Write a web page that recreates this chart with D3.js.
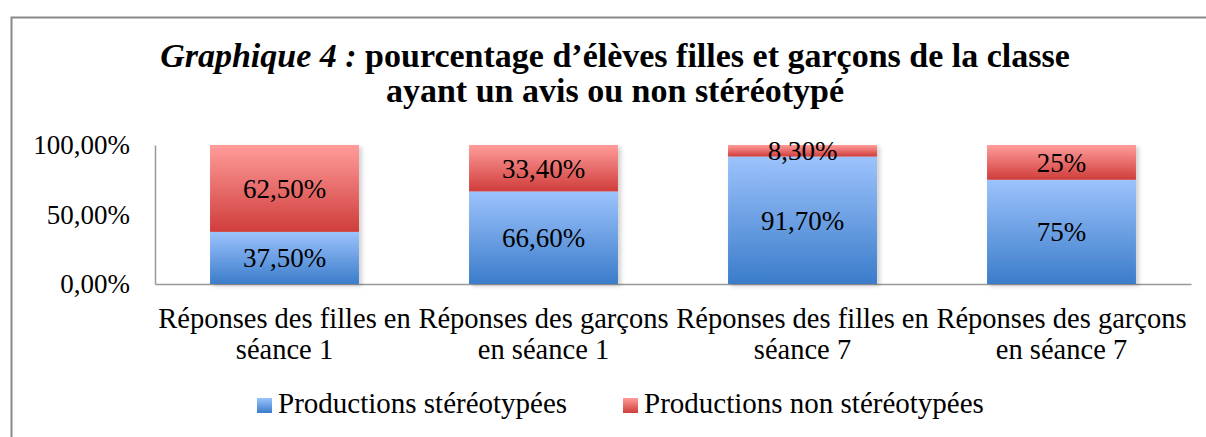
<!DOCTYPE html>
<html>
<head>
<meta charset="utf-8">
<script src="https://cdn.jsdelivr.net/npm/d3@7"></script>
<style>
body { margin: 0; background: #fff; }
</style>
</head>
<body>
<div id="chart"></div>
<script>
var categories = ["c1", "c2", "c3", "c4"];
var catLabels = [
    ["Réponses des filles en", "séance 1"],
    ["Réponses des garçons", "en séance 1"],
    ["Réponses des filles en", "séance 7"],
    ["Réponses des garçons", "en séance 7"]
];
var stereo = [0.375, 0.666, 0.917, 0.75];
var nonStereo = [0.625, 0.334, 0.083, 0.25];
var stereoLabels = ["37,50%", "66,60%", "91,70%", "75%"];
var nonStereoLabels = ["62,50%", "33,40%", "8,30%", "25%"];
var seriesNames = ["Productions stéréotypées", "Productions non stéréotypées"];
var yTicks = [0, 0.5, 1];

var FONT = "'Liberation Serif', serif";
var W = 1206, H = 437;
var svg = d3.select("#chart").append("svg").attr("width", W).attr("height", H)
    .attr("font-family", FONT);

var defs = svg.append("defs");
function grad(id, top, bottom) {
    var g = defs.append("linearGradient").attr("id", id)
        .attr("x1", 0).attr("y1", 0).attr("x2", 0).attr("y2", 1);
    g.append("stop").attr("offset", "0%").attr("stop-color", top);
    g.append("stop").attr("offset", "100%").attr("stop-color", bottom);
}
grad("gBlue", "#9cc3fc", "#3b7cca");
grad("gRed", "#ff9c9a", "#cf3d3b");
var f = defs.append("filter").attr("id", "shadow").attr("x", "-10%").attr("y", "-10%")
    .attr("width", "130%").attr("height", "130%");
f.append("feDropShadow").attr("dx", 3).attr("dy", 2).attr("stdDeviation", 2)
    .attr("flood-color", "#000").attr("flood-opacity", 0.18);

// chart frame
svg.append("rect").attr("x", 11.5).attr("y", 17.5).attr("width", 1300).attr("height", 500)
    .style("fill", "none").style("stroke", "#8a8a8a").style("stroke-width", 2);

// title
var title = svg.append("text").attr("x", 615).attr("y", 67).attr("text-anchor", "middle")
    .attr("font-family", FONT)
    .style("font-size", "34px").style("font-weight", "bold").style("fill", "#000");
title.append("tspan").style("font-style", "italic").text("Graphique 4 :");
title.append("tspan").text(" pourcentage d’élèves filles et garçons de la classe");
svg.append("text").attr("x", 615).attr("y", 102).attr("text-anchor", "middle")
    .attr("font-family", FONT)
    .style("font-size", "34px").style("font-weight", "bold").style("fill", "#000")
    .text("ayant un avis ou non stéréotypé");

var x = d3.scaleBand().domain(categories).range([155, 1191])
    .paddingInner(0.425).paddingOuter(0.2125);
var y = d3.scaleLinear().domain([0, 1]).range([284, 145]);

var loc = d3.formatLocale({decimal: ",", thousands: " ", grouping: [3], currency: ["", "€"]});
var yAxis = d3.axisLeft(y).tickValues(yTicks).tickSize(0).tickPadding(25)
    .tickFormat(loc.format(".2%"));
var gy = svg.append("g").attr("transform", "translate(155,0)").call(yAxis)
    .attr("font-family", FONT);
gy.select(".domain").style("stroke", "#999").style("stroke-width", 1.5);
gy.selectAll("text").style("font-size", "27px").style("fill", "#000");

var xAxis = d3.axisBottom(x).tickSize(0).tickFormat("");
var gx = svg.append("g").attr("transform", "translate(0,284)").call(xAxis);
gx.select(".domain").style("stroke", "#999").style("stroke-width", 1.5);

// bars
var data = categories.map(function (c, i) {
    return {cat: c, s: stereo[i], n: nonStereo[i], sl: stereoLabels[i], nl: nonStereoLabels[i], lab: catLabels[i]};
});
var bars = svg.append("g").selectAll("g").data(data).enter().append("g")
    .style("filter", "url(#shadow)");
bars.append("rect").attr("x", function (d) { return x(d.cat); })
    .attr("y", function (d) { return y(d.s); })
    .attr("width", x.bandwidth())
    .attr("height", function (d) { return y(0) - y(d.s); })
    .style("fill", "url(#gBlue)");
bars.append("rect").attr("x", function (d) { return x(d.cat); })
    .attr("y", function (d) { return y(d.s + d.n); })
    .attr("width", x.bandwidth())
    .attr("height", function (d) { return y(d.s) - y(d.s + d.n); })
    .style("fill", "url(#gRed)");

var labs = svg.append("g").attr("font-family", FONT).selectAll("g").data(data).enter().append("g");
labs.append("text").attr("x", function (d) { return x(d.cat) + x.bandwidth() / 2; })
    .attr("y", function (d) { return (y(0) + y(d.s)) / 2; })
    .attr("dy", ".35em").attr("text-anchor", "middle")
    .style("font-size", "27px").style("fill", "#000")
    .text(function (d) { return d.sl; });
labs.append("text").attr("x", function (d) { return x(d.cat) + x.bandwidth() / 2; })
    .attr("y", function (d) { return (y(d.s) + y(d.s + d.n)) / 2; })
    .attr("dy", ".35em").attr("text-anchor", "middle")
    .style("font-size", "27px").style("fill", "#000")
    .text(function (d) { return d.nl; });

// category labels
var cl = svg.append("g").attr("font-family", FONT).selectAll("text").data(data).enter().append("text")
    .attr("text-anchor", "middle").style("font-size", "28.5px").style("fill", "#000");
cl.append("tspan").attr("x", function (d) { return x(d.cat) + x.bandwidth() / 2; })
    .attr("y", 328).text(function (d) { return d.lab[0]; });
cl.append("tspan").attr("x", function (d) { return x(d.cat) + x.bandwidth() / 2; })
    .attr("y", 359).text(function (d) { return d.lab[1]; });

// legend
var legend = svg.append("g").attr("class", "legend").attr("font-family", FONT);
var legItems = [
    {name: seriesNames[0], fill: "url(#gBlue)", x: 257},
    {name: seriesNames[1], fill: "url(#gRed)", x: 623}
];
var le = legend.selectAll("g").data(legItems).enter().append("g")
    .attr("transform", function (d) { return "translate(" + d.x + ",398)"; });
le.append("rect").attr("width", 15).attr("height", 15).style("fill", function (d) { return d.fill; });
le.append("text").attr("x", 21).attr("y", 15).style("font-size", "29px").style("fill", "#000")
    .text(function (d) { return d.name; });
</script>
</body>
</html>
